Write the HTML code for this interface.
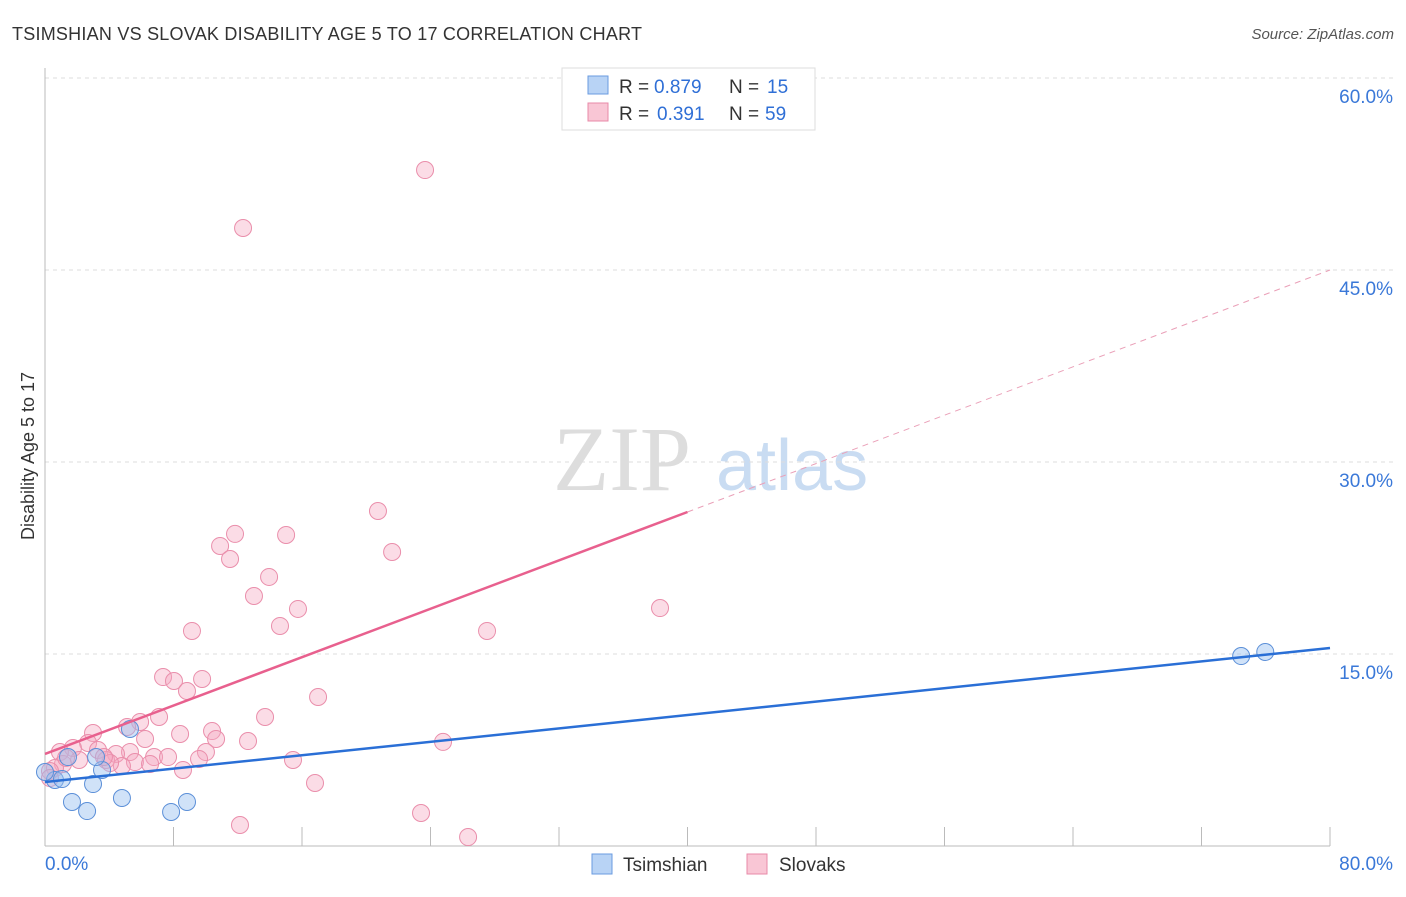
<!DOCTYPE html>
<html><head><meta charset="utf-8"><style>
body{margin:0;background:#fff;font-family:"Liberation Sans",sans-serif}
svg text{font-family:"Liberation Sans",sans-serif}
</style></head><body>
<svg id="c" width="1406" height="892">
<text x="12" y="40" font-size="18" fill="#333" textLength="630">TSIMSHIAN VS SLOVAK DISABILITY AGE 5 TO 17 CORRELATION CHART</text>
<text x="1394" y="39" font-size="15" fill="#555" text-anchor="end" font-style="italic">Source: ZipAtlas.com</text>
<text x="34" y="456" font-size="18" fill="#333" text-anchor="middle" transform="rotate(-90 34 456)">Disability Age 5 to 17</text>
<g><text x="553" y="490" font-size="92" fill="#ddd" font-family="Liberation Serif" style="font-family:'Liberation Serif',serif">ZIP</text><text x="716" y="490" font-size="72" fill="#c9dcf2">atlas</text></g>
<g id="grid"></g><g id="axes"></g><g id="marks"></g>
<g>
<rect x="562" y="68" width="253" height="62" fill="#fff" stroke="#ddd"/>
<rect x="588" y="76" width="20" height="18" fill="#b8d3f5" stroke="#6a9be0"/>
<rect x="588" y="103" width="20" height="18" fill="#f9c6d5" stroke="#e88aa8"/>
<text x="619" y="93" font-size="19" fill="#333">R =</text><text x="654" y="93" font-size="19" fill="#2f6fd6">0.879</text>
<text x="729" y="93" font-size="19" fill="#333">N =</text><text x="767" y="93" font-size="19" fill="#2f6fd6">15</text>
<text x="619" y="120" font-size="19" fill="#333">R =</text><text x="657" y="120" font-size="19" fill="#2f6fd6">0.391</text>
<text x="729" y="120" font-size="19" fill="#333">N =</text><text x="765" y="120" font-size="19" fill="#2f6fd6">59</text>
</g>
<g>
<rect x="592" y="854" width="20" height="20" fill="#b8d3f5" stroke="#6a9be0"/>
<text x="623" y="871" font-size="19" fill="#333">Tsimshian</text>
<rect x="747" y="854" width="20" height="20" fill="#f9c6d5" stroke="#e88aa8"/>
<text x="779" y="871" font-size="19" fill="#333">Slovaks</text>
</g>
</svg>
<script>
const yTicks=[15,30,45,60];
const yTickLabels=["15.0%","30.0%","45.0%","60.0%"];
const xTicks=[0,8,16,24,32,40,48,56,64,72,80];
const pinkX=[23.66,12.33,20.73,21.61,11.83,10.90,15.01,11.52,13.95,13.01,15.75,14.63,9.15,27.52,38.29,7.35,8.03,9.78,8.84,17.00,13.70,7.10,5.92,5.11,10.40,8.41,10.65,6.23,12.64,24.78,2.99,2.68,1.74,0.93,3.30,5.29,4.42,3.80,6.79,7.66,10.02,9.59,5.60,4.79,6.54,4.05,2.12,1.12,0.62,0.31,8.59,15.44,16.81,12.14,23.41,26.34,0.31,1.31,3.67];
const pinkY=[52.81,48.28,26.17,22.97,24.38,23.44,24.30,22.42,21.02,19.53,18.52,17.19,16.80,16.80,18.59,13.20,12.89,13.05,12.11,11.64,10.08,10.08,9.69,9.30,8.98,8.75,8.36,8.36,8.20,8.13,8.83,8.05,7.66,7.34,7.50,7.34,7.19,6.72,6.95,6.95,7.34,6.80,6.56,6.25,6.41,6.48,6.72,6.41,6.09,5.86,5.94,6.72,4.92,1.64,2.58,0.70,5.31,6.88,6.95];
const blueX=[0.62,1.06,1.68,2.62,2.99,3.55,3.18,4.79,5.29,7.85,8.84,74.47,75.97,0,1.43];
const blueY=[5.16,5.23,3.44,2.73,4.84,5.94,6.95,3.75,9.14,2.66,3.44,14.84,15.16,5.78,6.95];
const blueTrend=[5.0,15.47];
const pinkTrend=[7.19,45.0];
const pinkSolidEnd=40;
const NS="http://www.w3.org/2000/svg";
const sx=v=>45+v*16.0625, sy=v=>846-v*12.8;
function mk(t,a,p){const e=document.createElementNS(NS,t);for(const k in a)e.setAttribute(k,a[k]);document.getElementById(p).appendChild(e);return e;}
yTicks.forEach((t,i)=>{
 const l=mk('line',{x1:45,x2:1394,y1:sy(t),y2:sy(t),stroke:'#ddd','stroke-dasharray':'4,4'},'grid');
 
 
 const tx=mk('text',{x:1393,y:sy(t)+25,'font-size':19,fill:'#3a78d8','text-anchor':'end'},'grid');
 tx.textContent=yTickLabels[i];
 
 
});
const ax=mk('line',{x1:45,x2:1330,y1:846,y2:846,stroke:'#bbb'},'axes');


const ay=mk('line',{x1:45,x2:45,y1:68,y2:846,stroke:'#bbb'},'axes');


xTicks.forEach(t=>{if(t===0)return;
 const l=mk('line',{x1:sx(t),x2:sx(t),y1:827,y2:846,stroke:'#bbb'},'axes');
 
 
});
[[0,'start','0.0%'],[80,'end','80.0%']].forEach(a=>{
 const tx=mk('text',{x:a[0]?1393:45,y:870,'font-size':19,fill:'#3a78d8','text-anchor':a[1]},'axes');
 tx.textContent=a[2];
 
 
});
pinkX.forEach((x,i)=>{
 const c=mk('circle',{cx:sx(x),cy:sy(pinkY[i]),r:8.5,fill:'rgba(246,168,192,0.4)',stroke:'#ea8eab','stroke-width':1},'marks');
 
 
});
blueX.forEach((x,i)=>{
 const c=mk('circle',{cx:sx(x),cy:sy(blueY[i]),r:8.5,fill:'rgba(150,190,240,0.45)',stroke:'#5b8fd8','stroke-width':1},'marks');
 
 
});
const pAt=x=>pinkTrend[0]+(pinkTrend[1]-pinkTrend[0])*x/80;
const pd=mk('line',{x1:sx(pinkSolidEnd),y1:sy(pAt(pinkSolidEnd)),x2:sx(80),y2:sy(pinkTrend[1]),stroke:'#eaa0b8','stroke-width':1,'stroke-dasharray':'6,5'},'marks');


const ps=mk('line',{x1:sx(0),y1:sy(pinkTrend[0]),x2:sx(pinkSolidEnd),y2:sy(pAt(pinkSolidEnd)),stroke:'#e8608e','stroke-width':2.5},'marks');


const bl=mk('line',{x1:sx(0),y1:sy(blueTrend[0]),x2:sx(80),y2:sy(blueTrend[1]),stroke:'#2a6fd6','stroke-width':2.5},'marks');


</script>
</body></html>
